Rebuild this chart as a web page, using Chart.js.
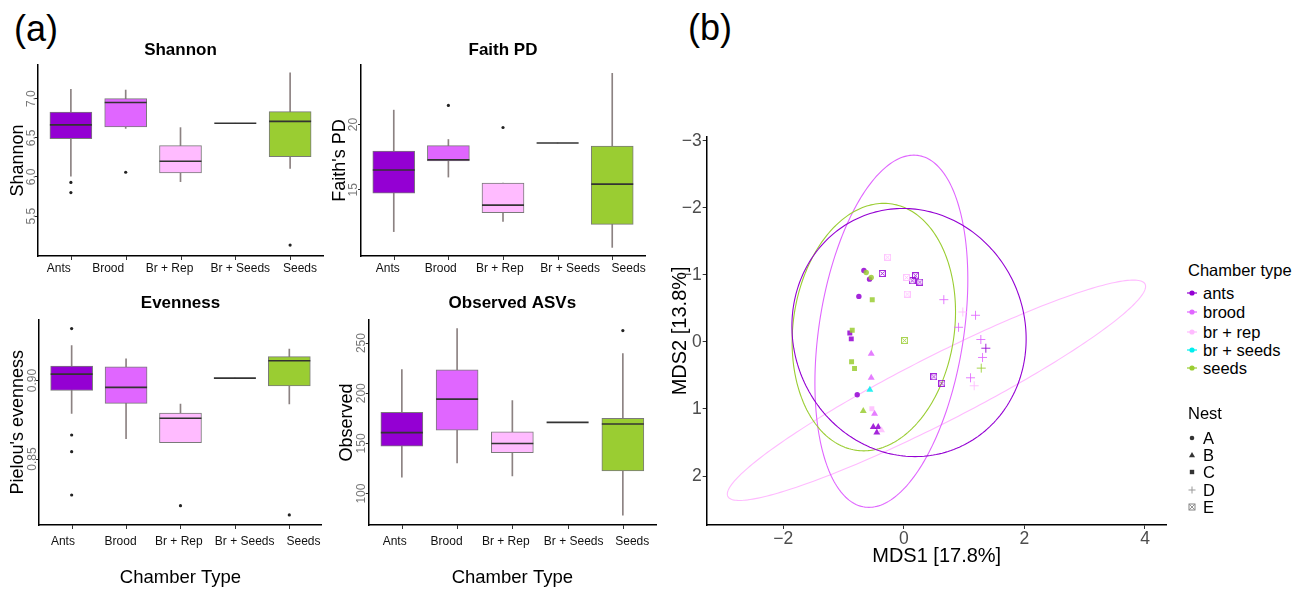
<!DOCTYPE html>
<html><head><meta charset="utf-8">
<script src="https://cdn.jsdelivr.net/npm/chart.js@4"></script>
<style>
body{margin:0;background:#fff;width:1303px;height:589px;overflow:hidden;position:relative;font-family:"Liberation Sans",Arial,Helvetica,sans-serif;}
canvas{position:absolute;}
.lab{position:absolute;font-size:36px;line-height:36px;color:#000;}
.lg{position:absolute;font-size:16.5px;line-height:18px;color:#000;white-space:nowrap;}
.sym{position:absolute;}
</style></head><body>
<div class="lab" style="left:14px;top:11px">(a)</div>
<div class="lab" style="left:688px;top:10px">(b)</div>
<canvas id="c1"></canvas>
<canvas id="c2"></canvas>
<canvas id="c3"></canvas>
<canvas id="c4"></canvas>
<canvas id="c5"></canvas>
<div id="legend"></div>
<script>
const FONT = '"Liberation Sans", Arial, Helvetica, sans-serif';
Chart.defaults.font.family = FONT;

// ---------- boxplot data ----------
const categories = ['Ants','Brood','Br + Rep','Br + Seeds','Seeds'];
const boxColors  = ['#9400D3','#E066FF','#FFBBFF','#00EEEE','#9ACD32'];

const shannonLow    = [6.01, 6.62, 5.94, 6.686, 6.11];
const shannonQ1     = [6.49, 6.64, 6.05, 6.686, 6.26];
const shannonMedian = [6.665, 6.95, 6.20, 6.686, 6.71];
const shannonQ3     = [6.83, 7.00, 6.40, 6.686, 6.835];
const shannonHigh   = [7.12, 7.11, 6.63, 6.686, 7.33];
const shannonOutX   = [1, 1, 2, 5];
const shannonOutY   = [5.93, 5.80, 6.06, 5.13];
const shannonTicks  = [5.5, 6.0, 6.5, 7.0];

const faithLow    = [11.79, 15.97, 12.58, 18.58, 10.58];
const faithQ1     = [14.74, 17.20, 13.25, 18.58, 12.35];
const faithMedian = [16.51, 17.30, 13.82, 18.58, 15.43];
const faithQ3     = [17.97, 18.38, 15.51, 18.58, 18.35];
const faithHigh   = [21.10, 18.85, 15.51, 18.58, 23.92];
const faithOutX   = [2, 3];
const faithOutY   = [21.46, 19.77];
const faithTicks  = [15, 20];

const evenLow    = [0.879, 0.8629, 0.8604, 0.9015, 0.885];
const evenQ1     = [0.8936, 0.8854, 0.8604, 0.9015, 0.8966];
const evenMedian = [0.904, 0.8956, 0.8759, 0.9015, 0.9125];
const evenQ3     = [0.9091, 0.9086, 0.8792, 0.9015, 0.9152];
const evenHigh   = [0.9222, 0.9137, 0.885, 0.9015, 0.920];
const evenOutX   = [1, 1, 1, 1, 3, 5];
const evenOutY   = [0.933, 0.8653, 0.8547, 0.8271, 0.8203, 0.8144];
const evenTicks  = [0.85, 0.90];

const obsLow    = [116.3, 130.5, 117.7, 171, 78.5];
const obsQ1     = [147.3, 163.1, 140.7, 171, 122.6];
const obsMedian = [160.8, 194.1, 149.9, 171, 169.4];
const obsQ3     = [180.9, 223.4, 161.5, 171, 175.0];
const obsHigh   = [223.7, 264.5, 192.8, 171, 239.5];
const obsOutX   = [5];
const obsOutY   = [262.5];
const obsTicks  = [100, 150, 200, 250];

// ---------- MDS data ----------
const chamberTypes  = ['ants','brood','br + rep','br + seeds','seeds'];
const chamberColors = ['#9400D3','#E066FF','#FFBBFF','#00EEEE','#9ACD32'];
const nests = ['A','B','C','D','E'];

const antsX    = [-0.663,-0.569,-0.746,-0.773,-0.896,-0.872,-0.507,-0.425,-0.448,-0.358,0.194,0.139,0.265,0.498,0.630,1.360];
const antsY    = [-1.065,-0.936,-0.679,0.788,-0.134,-0.045,1.267,1.267,1.352,-1.021,-0.987,-0.912,-0.892,0.520,0.618,0.094];
const antsNest = ['A','A','A','A','C','C','B','B','B','E','E','E','E','E','E','D'];

const broodX    = [-0.541,-0.541,-0.486,0.663,1.189,0.907,1.277,1.305,1.106];
const broodY    = [0.178,0.535,1.070,-0.630,-0.397,-0.218,-0.036,0.232,0.535];
const broodNest = ['B','B','B','D','D','D','D','D','D'];

const brRepX    = [-0.270,0.045,0.056,-0.531,-0.370,0.978,1.167];
const brRepY    = [-1.263,-0.961,-0.713,0.996,1.316,-0.446,0.654];
const brRepNest = ['E','E','E','C','B','D','D'];

const brSeedsX    = [-0.564];
const brSeedsY    = [0.713];
const brSeedsNest = ['B'];

const seedsX    = [-0.624,-0.541,-0.524,-0.856,-0.867,-0.818,-0.673,0.012,1.284];
const seedsY    = [-1.036,-0.961,-0.630,-0.174,0.297,0.395,1.030,-0.021,0.391];
const seedsNest = ['A','A','C','C','C','C','B','E','D'];

// ellipses: centre and two conjugate semi-diameters (data units)
const ellipseType  = ['br + rep','brood','seeds','ants'];
const ellipseColor = ['#FFBBFF','#E066FF','#9ACD32','#9400D3'];
const ellipseCX = [0.541, -0.207, -0.498, 0.086];
const ellipseCY = [0.721, -0.159, -0.221, -0.140];
const ellipseAX = [3.469, 0.373, 0.166, -0.100];
const ellipseAY = [-1.548, -2.626, -1.845, -1.850];
const ellipseBX = [0, 1.212, 1.345, 1.940];
const ellipseBY = [0.551, 0, 0, 0];

const mdsXTicks = [-2, 0, 2, 4];
const mdsYTicks = [-3, -2, -1, 0, 1, 2];

// ---------- helpers ----------
function measureMax(labels, size) {
  const g = document.createElement('canvas').getContext('2d');
  g.font = size + 'px ' + FONT;
  return Math.max(...labels.map(t => g.measureText(t).width));
}

function boxChart(id, o) {
  const cv = document.getElementById(id);
  const r = o.canvas, p = o.plot;
  cv.style.left = r[0] + 'px'; cv.style.top = r[1] + 'px';
  cv.width = r[2]; cv.height = r[3];
  const tLH = 17 * 1.2;
  const tTop = o.titleY - r[1] - tLH / 2;
  const tBottom = (p[1] - r[1]) - tTop - tLH;
  const yLabels = o.ticks.map(v => v.toFixed(o.dec));
  const widest = measureMax(yLabels, 12);
  const yPad = o.yLabelD - 3 - widest / 2;
  const xTitleLH = 18.5;
  const overlay = {
    id: 'boxOverlay',
    afterDatasetsDraw(chart) {
      const {ctx, scales: {x, y}} = chart;
      ctx.save();
      ctx.strokeStyle = '#333'; ctx.lineWidth = 1.6;
      o.med.forEach((m, i) => {
        const px = x.getPixelForValue(i + 1), py = y.getPixelForValue(m);
        ctx.beginPath(); ctx.moveTo(px - 21, py); ctx.lineTo(px + 21, py); ctx.stroke();
      });
      ctx.restore();
    },
    afterDraw(chart) {
      // tick marks at category positions
      const {ctx, scales: {x}, chartArea} = chart;
      ctx.save();
      ctx.strokeStyle = '#333'; ctx.lineWidth = 1;
      categories.forEach((c, i) => {
        const px = Math.round(x.getPixelForValue(i + 1)) + 0.5;
        ctx.beginPath(); ctx.moveTo(px, chartArea.bottom); ctx.lineTo(px, chartArea.bottom + 4); ctx.stroke();
      });
      ctx.restore();
    }
  };
  new Chart(cv, {
    type: 'bar',
    data: {datasets: [
      {type: 'bar', data: categories.map((c, i) => ({x: i + 1, y: [o.q1[i], o.q3[i]]})),
       backgroundColor: boxColors, borderColor: '#7a7a7a', borderWidth: 1, borderSkipped: false,
       barThickness: 42, grouped: false, order: 1},
      {type: 'bar', data: categories.map((c, i) => ({x: i + 1, y: [o.low[i], o.high[i]]})),
       backgroundColor: '#8c8282', borderWidth: 0, barThickness: 1, grouped: false, order: 2},
      {type: 'scatter', data: o.outX.map((x, i) => ({x: x, y: o.outY[i]})),
       pointRadius: 1.6, backgroundColor: '#222', borderWidth: 0, order: 0}
    ]},
    options: {
      responsive: false, animation: false, devicePixelRatio: 1,
      layout: {padding: {left: 0, top: 0, bottom: 0, right: r[0] + r[2] - p[2]}},
      plugins: {
        legend: {display: false}, tooltip: {enabled: false},
        title: {display: true, text: o.title, fullSize: false, color: '#000',
                font: {size: 17, weight: 'bold', lineHeight: 1.2},
                padding: {top: tTop, bottom: tBottom}}
      },
      scales: {
        x: {type: 'linear', min: 0.4, max: 5.6, offset: false,
            afterBuildTicks: s => { s.ticks = o.labelPos.map(v => ({value: v})); },
            afterFit: s => { s.height = r[1] + r[3] - p[3]; },
            grid: {display: false, drawTicks: false},
            border: {display: true, color: '#000', width: 1.5},
            ticks: {callback: (v, i) => categories[i], font: {size: 12}, color: '#111', padding: o.xPad + 4,
                    maxRotation: 0, minRotation: 0, autoSkip: false},
            title: {display: !!o.xTitle, text: o.xTitle || '', color: '#000',
                    font: {size: 18.5, lineHeight: 1},
                    padding: {top: 0, bottom: o.xTitle ? (r[1] + r[3] - o.xTitleY - xTitleLH / 2) : 0}}
        },
        y: {type: 'linear', min: o.min, max: o.max,
            afterBuildTicks: s => { s.ticks = o.ticks.map(v => ({value: v})); },
            afterFit: s => { s.width = p[0] - r[0]; },
            grid: {display: true, drawOnChartArea: false, drawTicks: true, tickLength: 3, color: '#333'},
            border: {display: true, color: '#000', width: 1.5},
            ticks: {minRotation: 90, maxRotation: 90, crossAlign: 'center', padding: yPad,
                    callback: v => Number(v).toFixed(o.dec), font: {size: 12}, color: '#777'},
            title: {display: true, text: o.yTitle, color: '#000', font: {size: 18, lineHeight: 1},
                    padding: {top: o.yTitleX - r[0] - 9, bottom: 0}}
        }
      }
    },
    plugins: [overlay]
  });
}

boxChart('c1', {canvas: [0, 30, 330, 250], plot: [38, 65, 323, 256], title: 'Shannon', titleY: 50,
  yTitle: 'Shannon', yTitleX: 18, yLabelD: 6, xPad: 1.5, min: 4.99, max: 7.43, ticks: shannonTicks, dec: 1,
  labelPos: [0.78, 1.68, 2.80, 4.09, 5.18],
  low: shannonLow, q1: shannonQ1, med: shannonMedian, q3: shannonQ3, high: shannonHigh, outX: shannonOutX, outY: shannonOutY});
boxChart('c2', {canvas: [330, 30, 330, 250], plot: [361, 65, 645, 256], title: 'Faith PD', titleY: 50,
  yTitle: "Faith's PD", yTitleX: 340, yLabelD: 7.7, xPad: 1.5, min: 9.92, max: 24.56, ticks: faithTicks, dec: 0,
  labelPos: [0.89, 1.86, 2.94, 4.23, 5.30],
  low: faithLow, q1: faithQ1, med: faithMedian, q3: faithQ3, high: faithHigh, outX: faithOutX, outY: faithOutY});
boxChart('c3', {canvas: [0, 283, 330, 306], plot: [39, 319.5, 329, 525], title: 'Evenness', titleY: 303,
  yTitle: "Pielou's evenness", yTitleX: 18.3, yLabelD: 6.3, xPad: 5, min: 0.808, max: 0.9388, ticks: evenTicks, dec: 2,
  xTitle: 'Chamber Type', xTitleY: 578, labelPos: [0.84, 1.90, 2.97, 4.18, 5.26],
  low: evenLow, q1: evenQ1, med: evenMedian, q3: evenQ3, high: evenHigh, outX: evenOutX, outY: evenOutY});
boxChart('c4', {canvas: [330, 283, 330, 306], plot: [368.7, 320, 660, 525], title: 'Observed ASVs', titleY: 303,
  yTitle: 'Observed', yTitleX: 346.7, yLabelD: 7, xPad: 5, min: 68.7, max: 273, ticks: obsTicks, dec: 0,
  xTitle: 'Chamber Type', xTitleY: 578, labelPos: [0.87, 1.81, 2.88, 4.11, 5.17],
  low: obsLow, q1: obsQ1, med: obsMedian, q3: obsQ3, high: obsHigh, outX: obsOutX, outY: obsOutY});

// ---------- MDS ----------
function boxX(color, size) {
  const c = document.createElement('canvas'); c.width = size; c.height = size;
  const g = c.getContext('2d');
  g.strokeStyle = color; g.lineWidth = 1;
  g.strokeRect(0.5, 0.5, size - 1, size - 1);
  g.beginPath(); g.moveTo(1.5, 1.5); g.lineTo(size - 1.5, size - 1.5);
  g.moveTo(size - 1.5, 1.5); g.lineTo(1.5, size - 1.5); g.stroke();
  return c;
}
function withAlpha(hex, a) {
  const n = parseInt(hex.slice(1), 16);
  return `rgba(${n >> 16},${(n >> 8) & 255},${n & 255},${a})`;
}
const styleOf = {A: 'circle', B: 'triangle', C: 'rect', D: 'cross'};
const radiusOf = {A: 2.7, B: 4, C: 3.5, D: 4.5, E: 3.5};

function mdsDataset(xs, ys, ns, k) {
  const col = withAlpha(chamberColors[k], 0.85);
  const eImg = boxX(col, 7);
  return {
    label: chamberTypes[k],
    data: xs.map((x, i) => ({x: x, y: ys[i]})),
    pointStyle: ctx => ns[ctx.dataIndex] === 'E' ? eImg : styleOf[ns[ctx.dataIndex]],
    pointRadius: ctx => radiusOf[ns[ctx.dataIndex]],
    backgroundColor: col, borderColor: col,
    borderWidth: ctx => ns[ctx.dataIndex] === 'D' ? 1 : 0
  };
}

const ellipsePlugin = {
  id: 'ellipses',
  beforeDatasetsDraw(chart) {
    const {ctx, chartArea, scales: {x, y}} = chart;
    ctx.save();
    ctx.beginPath(); ctx.rect(chartArea.left, chartArea.top, chartArea.width, chartArea.height); ctx.clip();
    ctx.lineWidth = 1.1;
    ellipseType.forEach((t, k) => {
      ctx.strokeStyle = ellipseColor[k];
      ctx.beginPath();
      for (let i = 0; i <= 240; i++) {
        const a = i / 240 * 2 * Math.PI;
        const ux = ellipseCX[k] + ellipseAX[k] * Math.cos(a) + ellipseBX[k] * Math.sin(a);
        const uy = ellipseCY[k] + ellipseAY[k] * Math.cos(a) + ellipseBY[k] * Math.sin(a);
        const px = x.getPixelForValue(ux), py = y.getPixelForValue(uy);
        if (i) ctx.lineTo(px, py); else ctx.moveTo(px, py);
      }
      ctx.closePath(); ctx.stroke();
    });
    ctx.restore();
  }
};

(function () {
  const cv = document.getElementById('c5');
  const r = [650, 80, 530, 505], p = [706.7, 136.7, 1166.7, 525];
  cv.style.left = r[0] + 'px'; cv.style.top = r[1] + 'px';
  cv.width = r[2]; cv.height = r[3];
  const fmt = v => v < 0 ? '\u2212' + (-v) : String(v);
  new Chart(cv, {
    type: 'scatter',
    data: {datasets: [
      mdsDataset(brRepX, brRepY, brRepNest, 2),
      mdsDataset(seedsX, seedsY, seedsNest, 4),
      mdsDataset(broodX, broodY, broodNest, 1),
      mdsDataset(brSeedsX, brSeedsY, brSeedsNest, 3),
      mdsDataset(antsX, antsY, antsNest, 0)
    ]},
    options: {
      responsive: false, animation: false, devicePixelRatio: 1,
      layout: {padding: {left: 0, top: p[1] - r[1], right: r[0] + r[2] - p[2], bottom: 0}},
      plugins: {legend: {display: false}, tooltip: {enabled: false}},
      scales: {
        x: {type: 'linear', min: -3.27, max: 4.36,
            afterBuildTicks: s => { s.ticks = mdsXTicks.map(v => ({value: v})); },
            afterFit: s => { s.height = r[1] + r[3] - p[3]; },
            grid: {display: true, drawOnChartArea: false, drawTicks: true, tickLength: 4, color: '#333'},
            border: {display: true, color: '#000', width: 1.5},
            ticks: {callback: fmt, font: {size: 17.5}, color: '#4d4d4d', padding: 0, maxRotation: 0, autoSkip: false},
            title: {display: true, text: 'MDS1 [17.8%]', color: '#000', font: {size: 20, lineHeight: 1},
                    padding: {top: 0, bottom: 18.3}}
        },
        y: {type: 'linear', min: -3.06, max: 2.73, reverse: true,
            afterBuildTicks: s => { s.ticks = mdsYTicks.map(v => ({value: v})); },
            afterFit: s => { s.width = p[0] - r[0]; },
            grid: {display: true, drawOnChartArea: false, drawTicks: true, tickLength: 4, color: '#333'},
            border: {display: true, color: '#000', width: 1.5},
            ticks: {callback: fmt, font: {size: 17.5}, color: '#4d4d4d', padding: 1},
            title: {display: true, text: 'MDS2 [13.8%]', color: '#000', font: {size: 20, lineHeight: 1},
                    padding: {top: 20, bottom: 0}}
        }
      }
    },
    plugins: [ellipsePlugin]
  });
})();

// ---------- legend ----------
(function () {
  const L = document.getElementById('legend');
  function text(t, left, cy) {
    const d = document.createElement('div'); d.className = 'lg'; d.textContent = t;
    d.style.left = left + 'px'; d.style.top = (cy - 9) + 'px'; L.appendChild(d);
  }
  function svg(html, cx, cy) {
    const d = document.createElement('div'); d.className = 'sym';
    d.style.left = (cx - 7) + 'px'; d.style.top = (cy - 7) + 'px';
    d.innerHTML = '<svg width="14" height="14" viewBox="0 0 14 14">' + html + '</svg>';
    L.appendChild(d);
  }
  text('Chamber type', 1188, 270);
  const cys = [293.3, 312, 331.5, 349.5, 367.8];
  chamberTypes.forEach((t, i) => {
    const c = chamberColors[i];
    svg(`<line x1="2" y1="7" x2="12" y2="7" stroke="${c}" stroke-width="1.2"/><circle cx="7" cy="7" r="2.6" fill="${c}"/>`, 1191.7, cys[i]);
    text(t, 1203, cys[i]);
  });
  text('Nest', 1188, 413.3);
  const nys = [438.3, 455.2, 472.3, 489.5, 506.8];
  const g = '#333';
  const shapes = [
    `<circle cx="7" cy="7" r="2.3" fill="${g}"/>`,
    `<polygon points="7,4 10,9.3 4,9.3" fill="${g}"/>`,
    `<rect x="4.8" y="4.8" width="4.4" height="4.4" fill="${g}"/>`,
    `<path d="M3.5 7H10.5M7 3.5V10.5" stroke="#999" stroke-width="1"/>`,
    `<rect x="4" y="4" width="6" height="6" fill="none" stroke="#777" stroke-width="0.9"/><path d="M4.5 4.5L9.5 9.5M9.5 4.5L4.5 9.5" stroke="#777" stroke-width="0.8"/>`
  ];
  nests.forEach((n, i) => { svg(shapes[i], 1191.7, nys[i]); text(n, 1203, nys[i]); });
})();
</script>
</body></html>
